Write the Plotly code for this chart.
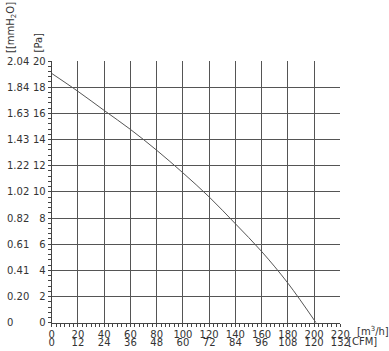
import plotly.graph_objects as go

# Data
flow_m3h = [0, 20, 40, 60, 80, 100, 120, 140, 160, 180, 201.4]
pressure_pa = [19.05, 17.68, 16.22, 14.77, 13.18, 11.45, 9.61, 7.56, 5.44, 3.02, 0]

# Tick labels
pa_ticks = [0, 2, 4, 6, 8, 10, 12, 14, 16, 18, 20]
mmh2o_labels = ["0", "0.20", "0.41", "0.61", "0.82", "1.02", "1.22", "1.43", "1.63", "1.84", "2.04"]
m3h_ticks = [0, 20, 40, 60, 80, 100, 120, 140, 160, 180, 200, 220]
cfm_labels = ["0", "12", "24", "36", "48", "60", "72", "84", "96", "108", "120", "132"]

W, H = 389, 351
FONT = "DejaVu Sans"
TXT = "#333333"
GRID = "#555555"

x0, x1 = 51.7, 340.4     # pixel positions of plot area
ytop, ybot = 61, 322.7

fig = go.Figure()
fig.add_trace(go.Scatter(x=flow_m3h, y=pressure_pa, mode="lines",
                         line=dict(color="#555555", width=1, shape="spline", smoothing=1),
                         showlegend=False, hoverinfo="skip"))
# invisible trace for the secondary axes
fig.add_trace(go.Scatter(x=[0], y=[0], xaxis="x2", yaxis="y2", mode="markers",
                         marker=dict(opacity=0), showlegend=False, hoverinfo="skip"))

dom_x = [x0 / W, x1 / W]
dom_y = [(H - ybot) / H, (H - ytop) / H]

fig.update_layout(
    width=W, height=H, autosize=False,
    margin=dict(l=0, r=0, t=0, b=0, pad=0, autoexpand=False),
    paper_bgcolor="white", plot_bgcolor="white",
    font=dict(family=FONT, size=10, color=TXT),
    xaxis=dict(domain=dom_x, range=[0, 220], tickvals=m3h_ticks, automargin=False,
               showgrid=True, gridcolor=GRID, gridwidth=1,
               showline=True, linecolor="#444444", linewidth=1,
               ticks="outside", ticklen=3, tickcolor="#444444",
               zeroline=False, anchor="y", ticklabelstandoff=-1,
               minor=dict(dtick=10 / 3, tick0=0, ticks="outside", ticklen=3,
                          tickcolor="#444444", showgrid=False),
               tickfont=dict(family=FONT, size=10, color=TXT)),
    yaxis=dict(domain=dom_y, range=[0, 20], tickvals=pa_ticks, automargin=False,
               showgrid=True, gridcolor=GRID, gridwidth=1,
               showline=True, linecolor="#444444", linewidth=1,
               ticks="outside", ticklen=3, tickcolor="#444444",
               zeroline=False, anchor="x",
               minor=dict(dtick=0.4, tick0=0, ticks="outside", ticklen=3,
                          tickcolor="#444444", showgrid=False),
               tickfont=dict(family=FONT, size=10, color=TXT)),
    xaxis2=dict(overlaying="x", anchor="free", position=(H - 335) / H, automargin=False,
                range=[0, 220], tickvals=m3h_ticks, ticktext=cfm_labels,
                showgrid=False, showline=False, zeroline=False, ticks="",
                side="bottom", tickfont=dict(family=FONT, size=10, color=TXT)),
    yaxis2=dict(overlaying="y", anchor="free", position=6 / W, side="right", automargin=False,
                range=[0, 20], tickvals=pa_ticks, ticktext=mmh2o_labels,
                showgrid=False, showline=False, zeroline=False, ticks="",
                tickfont=dict(family=FONT, size=10, color=TXT)),
)

fig.add_annotation(x=11 / W, y=(H - 28) / H, xref="paper", yref="paper",
                   xanchor="center", yanchor="middle",
                   text="[[mmH<sub>2</sub>O]", textangle=-90, showarrow=False,
                   font=dict(family=FONT, size=10, color=TXT))
fig.add_annotation(x=38.5 / W, y=(H - 43) / H, xref="paper", yref="paper",
                   xanchor="center", yanchor="middle",
                   text="[Pa]", textangle=-90, showarrow=False,
                   font=dict(family=FONT, size=10, color=TXT))
fig.add_annotation(x=355 / W, y=(H - 331) / H, xref="paper", yref="paper",
                   xanchor="left", yanchor="middle",
                   text="[m<sup>3</sup>/h]", showarrow=False,
                   font=dict(family=FONT, size=10, color=TXT))
fig.add_annotation(x=346 / W, y=(H - 341) / H, xref="paper", yref="paper",
                   xanchor="left", yanchor="middle", text="[CFM]", showarrow=False,
                   font=dict(family=FONT, size=10, color=TXT))

fig.write_html("out.html")
